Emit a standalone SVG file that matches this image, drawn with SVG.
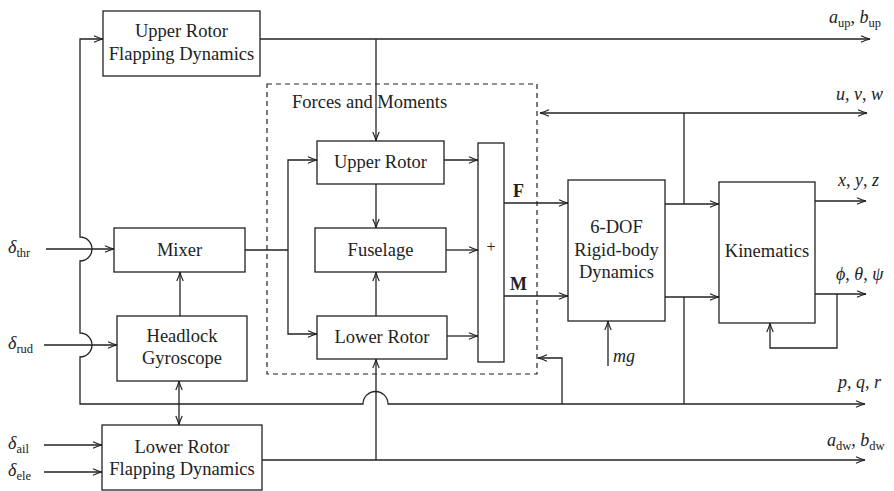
<svg xmlns="http://www.w3.org/2000/svg" width="894" height="491" viewBox="0 0 894 491">
<style>
.box{fill:none;stroke:#222;stroke-width:1.3}
.dash{fill:none;stroke:#222;stroke-width:1.2;stroke-dasharray:5,4}
.ln{fill:none;stroke:#222;stroke-width:1.3}
.t{font-family:"Liberation Serif","Times New Roman",serif;font-size:18.5px;fill:#222;text-anchor:middle}
.tl{font-family:"Liberation Serif","Times New Roman",serif;font-size:18.5px;fill:#222}
.m{font-family:"Liberation Serif","Times New Roman",serif;font-size:18px;font-style:italic;fill:#222}
.s{font-style:normal;font-size:12.5px}
.r{font-style:normal}
.b{font-family:"Liberation Serif","Times New Roman",serif;font-size:18px;font-weight:bold;fill:#222}
</style>
<defs>
<marker id="ah" markerWidth="12" markerHeight="10" refX="0" refY="0" viewBox="-10 -5 12 10" orient="auto-start-reverse" markerUnits="userSpaceOnUse">
<path d="M-9,-3.2 Q-4,-0.8 0,0 Q-4,0.8 -9,3.2" fill="none" stroke="#222" stroke-width="1.2"/>
</marker>
</defs>
<g id="forces-moments">
<rect class="dash" x="267" y="84" width="270" height="290"/>
<text class="tl" x="292" y="108">Forces and Moments</text>
</g>
<g id="upper-flapping">
<rect class="box" x="103" y="11" width="157" height="65"/>
<text class="t" x="181.5" y="37">Upper Rotor</text>
<text class="t" x="181.5" y="60">Flapping Dynamics</text>
</g>
<g id="mixer">
<rect class="box" x="114" y="228" width="131" height="44"/>
<text class="t" x="179.5" y="256">Mixer</text>
</g>
<g id="headlock">
<rect class="box" x="117" y="316" width="130" height="65"/>
<text class="t" x="182" y="342">Headlock</text>
<text class="t" x="182" y="364">Gyroscope</text>
</g>
<g id="lower-flapping">
<rect class="box" x="102" y="425" width="160" height="65"/>
<text class="t" x="182" y="453">Lower Rotor</text>
<text class="t" x="182" y="475">Flapping Dynamics</text>
</g>
<g id="upper-rotor">
<rect class="box" x="317" y="141" width="127" height="43"/>
<text class="t" x="380.5" y="168">Upper Rotor</text>
</g>
<g id="fuselage">
<rect class="box" x="315" y="228" width="131" height="44"/>
<text class="t" x="380.5" y="256">Fuselage</text>
</g>
<g id="lower-rotor">
<rect class="box" x="317" y="316" width="130" height="43"/>
<text class="t" x="382" y="343">Lower Rotor</text>
</g>
<g id="sum">
<rect class="box" x="478" y="143" width="26" height="219"/>
<text class="t" x="491" y="252" style="font-size:16px">+</text>
</g>
<g id="six-dof">
<rect class="box" x="568" y="180" width="97" height="141"/>
<text class="t" x="616.5" y="233">6-DOF</text>
<text class="t" x="616.5" y="256">Rigid-body</text>
<text class="t" x="616.5" y="278">Dynamics</text>
</g>
<g id="kinematics">
<rect class="box" x="719" y="182" width="96" height="141"/>
<text class="t" x="767" y="257">Kinematics</text>
</g>
<g id="connectors">
<path class="ln" d="M260,39 H870" marker-end="url(#ah)"/>
<path class="ln" d="M376,39 V141" marker-end="url(#ah)"/>
<path class="ln" d="M684,404 H388 A12.5,12.5 0 0 0 363,404 H80 V357 A12,12 0 0 0 80,333 V261 A12,12 0 0 0 80,237 V39 H103" marker-end="url(#ah)"/>
<path class="ln" d="M684,404 H865" marker-end="url(#ah)"/>
<path class="ln" d="M684,297 V404"/>
<path class="ln" d="M562,404 V358 H538" marker-end="url(#ah)"/>
<path class="ln" d="M665,204 H719" marker-end="url(#ah)"/>
<path class="ln" d="M665,297 H719" marker-end="url(#ah)"/>
<path class="ln" d="M684,204 V113"/>
<path class="ln" d="M540,113 H867" marker-start="url(#ah)" marker-end="url(#ah)"/>
<path class="ln" d="M815,201 H866" marker-end="url(#ah)"/>
<path class="ln" d="M815,294 H866" marker-end="url(#ah)"/>
<path class="ln" d="M837,294 V348 H770 V323" marker-end="url(#ah)"/>
<path class="ln" d="M608,366 V321" marker-end="url(#ah)"/>
<path class="ln" d="M504,203 H568" marker-end="url(#ah)"/>
<path class="ln" d="M504,296 H568" marker-end="url(#ah)"/>
<path class="ln" d="M245,250 H288"/>
<path class="ln" d="M288,250 V160 H317" marker-end="url(#ah)"/>
<path class="ln" d="M288,250 V334 H317" marker-end="url(#ah)"/>
<path class="ln" d="M444,160 H478" marker-end="url(#ah)"/>
<path class="ln" d="M446,250 H478" marker-end="url(#ah)"/>
<path class="ln" d="M447,336 H478" marker-end="url(#ah)"/>
<path class="ln" d="M376,184 V228" marker-end="url(#ah)"/>
<path class="ln" d="M376,316 V272" marker-end="url(#ah)"/>
<path class="ln" d="M376,460 V359" marker-end="url(#ah)"/>
<path class="ln" d="M262,460 H865" marker-end="url(#ah)"/>
<path class="ln" d="M180,316 V272" marker-end="url(#ah)"/>
<path class="ln" d="M179,381 V425" marker-start="url(#ah)" marker-end="url(#ah)"/>
<path class="ln" d="M46,249 H114" marker-end="url(#ah)"/>
<path class="ln" d="M44,345 H117" marker-end="url(#ah)"/>
<path class="ln" d="M44,445 H102" marker-end="url(#ah)"/>
<path class="ln" d="M44,472 H102" marker-end="url(#ah)"/>
</g>
<g id="labels">
<text class="m" x="8" y="253">δ<tspan class="s" dy="4">thr</tspan></text>
<text class="m" x="8" y="349">δ<tspan class="s" dy="4">rud</tspan></text>
<text class="m" x="8" y="449">δ<tspan class="s" dy="4">ail</tspan></text>
<text class="m" x="8" y="476">δ<tspan class="s" dy="4">ele</tspan></text>
<text class="m" x="829" y="23">a<tspan class="s" dy="4">up</tspan><tspan class="r" dy="-4">, </tspan>b<tspan class="s" dy="4">up</tspan></text>
<text class="m" x="836" y="100">u<tspan class="r">, </tspan>v<tspan class="r">, </tspan>w</text>
<text class="m" x="838" y="186">x<tspan class="r">, </tspan>y<tspan class="r">, </tspan>z</text>
<text class="m" x="836" y="280">ϕ<tspan class="r">, </tspan>θ<tspan class="r">, </tspan>ψ</text>
<text class="m" x="838" y="388">p<tspan class="r">, </tspan>q<tspan class="r">, </tspan>r</text>
<text class="m" x="827" y="446">a<tspan class="s" dy="4">dw</tspan><tspan class="r" dy="-4">, </tspan>b<tspan class="s" dy="4">dw</tspan></text>
<text class="m" x="613" y="362">mg</text>
<text class="b" x="513" y="197">F</text>
<text class="b" x="510" y="290">M</text>
</g>
</svg>
